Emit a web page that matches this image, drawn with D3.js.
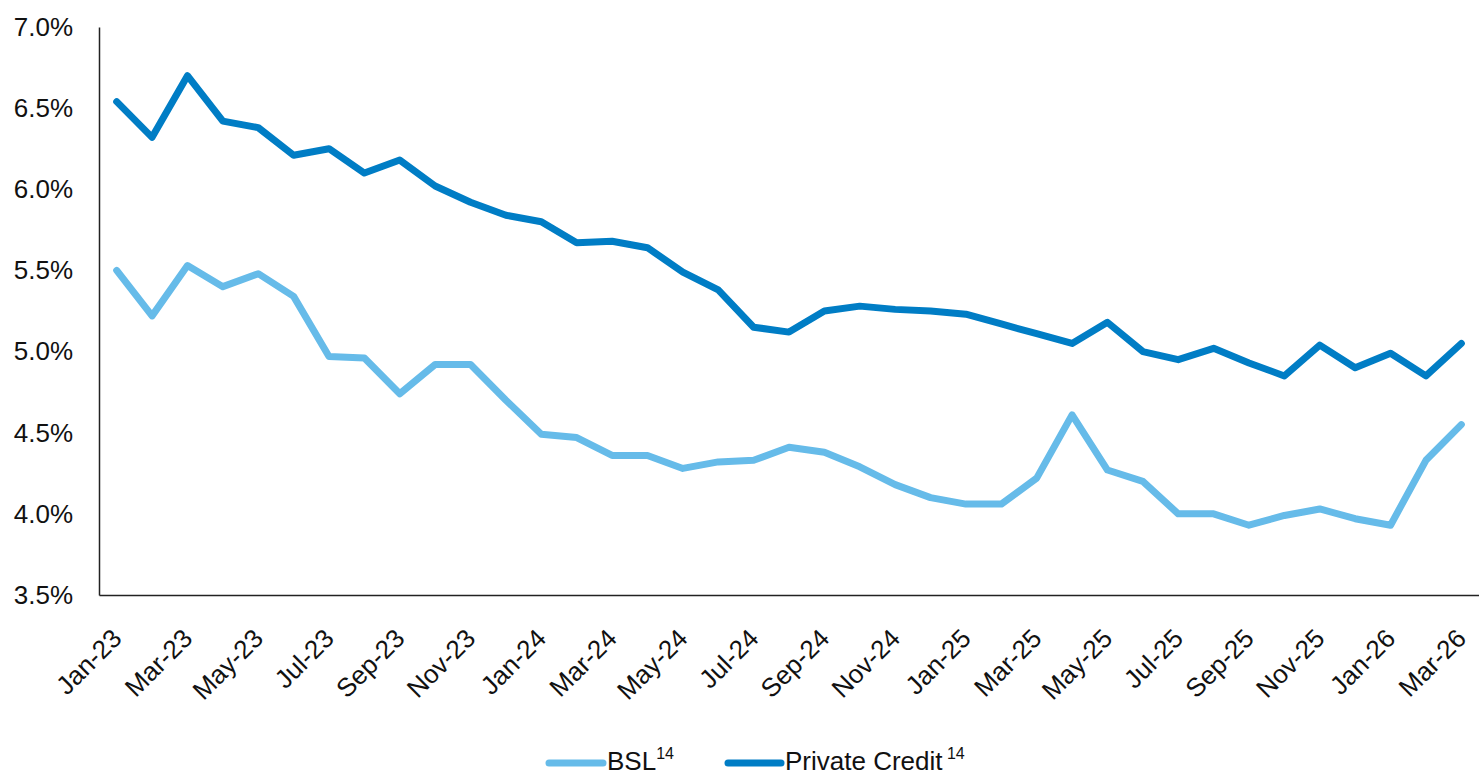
<!DOCTYPE html>
<html>
<head>
<meta charset="utf-8">
<script src="https://cdn.jsdelivr.net/npm/d3@7"></script>
<style>
  html, body { margin: 0; padding: 0; background: #fff; }
  svg { display: block; font-family: "Liberation Sans", Arial, sans-serif; }
</style>
</head>
<body>
<svg id="chart" width="1479" height="776"></svg>
<script>
const months = ["Jan-23","Feb-23","Mar-23","Apr-23","May-23","Jun-23","Jul-23","Aug-23","Sep-23","Oct-23","Nov-23","Dec-23",
  "Jan-24","Feb-24","Mar-24","Apr-24","May-24","Jun-24","Jul-24","Aug-24","Sep-24","Oct-24","Nov-24","Dec-24",
  "Jan-25","Feb-25","Mar-25","Apr-25","May-25","Jun-25","Jul-25","Aug-25","Sep-25","Oct-25","Nov-25","Dec-25",
  "Jan-26","Feb-26","Mar-26"];
const bsl = [5.50,5.22,5.53,5.40,5.48,5.34,4.97,4.96,4.74,4.92,4.92,4.70,
  4.49,4.47,4.36,4.36,4.28,4.32,4.33,4.41,4.38,4.29,4.18,4.10,
  4.06,4.06,4.22,4.61,4.27,4.20,4.00,4.00,3.93,3.99,4.03,3.97,
  3.93,4.33,4.55];
const privateCredit = [6.54,6.32,6.70,6.42,6.38,6.21,6.25,6.10,6.18,6.02,5.92,5.84,
  5.80,5.67,5.68,5.64,5.49,5.38,5.15,5.12,5.25,5.28,5.26,5.25,
  5.23,5.17,5.11,5.05,5.18,5.00,4.95,5.02,4.93,4.85,5.04,4.90,
  4.99,4.85,5.05];
const yTicks = [3.5,4.0,4.5,5.0,5.5,6.0,6.5,7.0];
const seriesNames = ["BSL","Private Credit"];
const seriesColors = ["#66BBE9","#007DC5"];

(function () {
const svg = d3.select("#chart");
const mLeft = 99, mRight = 1479, mTop = 27, mBottom = 595;

const x = d3.scalePoint().domain(months).range([mLeft, mRight]).padding(0.5);
const y = d3.scaleLinear().domain([3.5, 7.0]).range([mBottom, mTop]);

// Y axis
const yAxis = d3.axisLeft(y).tickValues(yTicks).tickSize(0).tickSizeOuter(0).tickPadding(26)
  .tickFormat(d => d.toFixed(1) + "%");
const gy = svg.append("g").attr("transform", `translate(${mLeft},0)`).call(yAxis);
gy.select(".domain").attr("stroke", "#222").attr("stroke-width", 1.5);
gy.selectAll("text").attr("font-size", 26).attr("fill", "#111").attr("font-family", "Liberation Sans, Arial, sans-serif");

// X axis
const xAxis = d3.axisBottom(x).tickValues(months.filter((m, i) => i % 2 === 0)).tickSize(0).tickSizeOuter(0);
const gx = svg.append("g").attr("transform", `translate(0,${mBottom})`).call(xAxis);
gx.select(".domain").attr("stroke", "#222").attr("stroke-width", 1.5);
gx.selectAll("text")
  .attr("font-size", 26).attr("fill", "#111").attr("font-family", "Liberation Sans, Arial, sans-serif")
  .attr("text-anchor", "end").attr("dy", null).attr("y", 0)
  .attr("transform", "translate(6,45) rotate(-45)");

// Lines
const line = d3.line().x((d, i) => x(months[i])).y(d => y(d));
[bsl, privateCredit].forEach((s, k) => {
  svg.append("path").datum(s)
    .attr("d", line)
    .attr("fill", "none")
    .attr("stroke", seriesColors[k])
    .attr("stroke-width", 7)
    .attr("stroke-linejoin", "round")
    .attr("stroke-linecap", "round");
});

// Legend
const legendItems = [
  {name: seriesNames[0], sup: "14", color: seriesColors[0], x0: 549, x1: 603, tx: 607},
  {name: seriesNames[1], sup: " 14", color: seriesColors[1], x0: 728, x1: 781, tx: 785}
];
const lg = svg.append("g");
legendItems.forEach(it => {
  lg.append("line").attr("x1", it.x0).attr("x2", it.x1).attr("y1", 763).attr("y2", 763)
    .attr("stroke", it.color).attr("stroke-width", 7).attr("stroke-linecap", "round");
  const t = lg.append("text").attr("x", it.tx).attr("y", 770).attr("font-size", 26).attr("fill", "#111");
  t.append("tspan").text(it.name);
  t.append("tspan").attr("font-size", 16).attr("dy", -11).text(it.sup);
});
})();
</script>
</body>
</html>
